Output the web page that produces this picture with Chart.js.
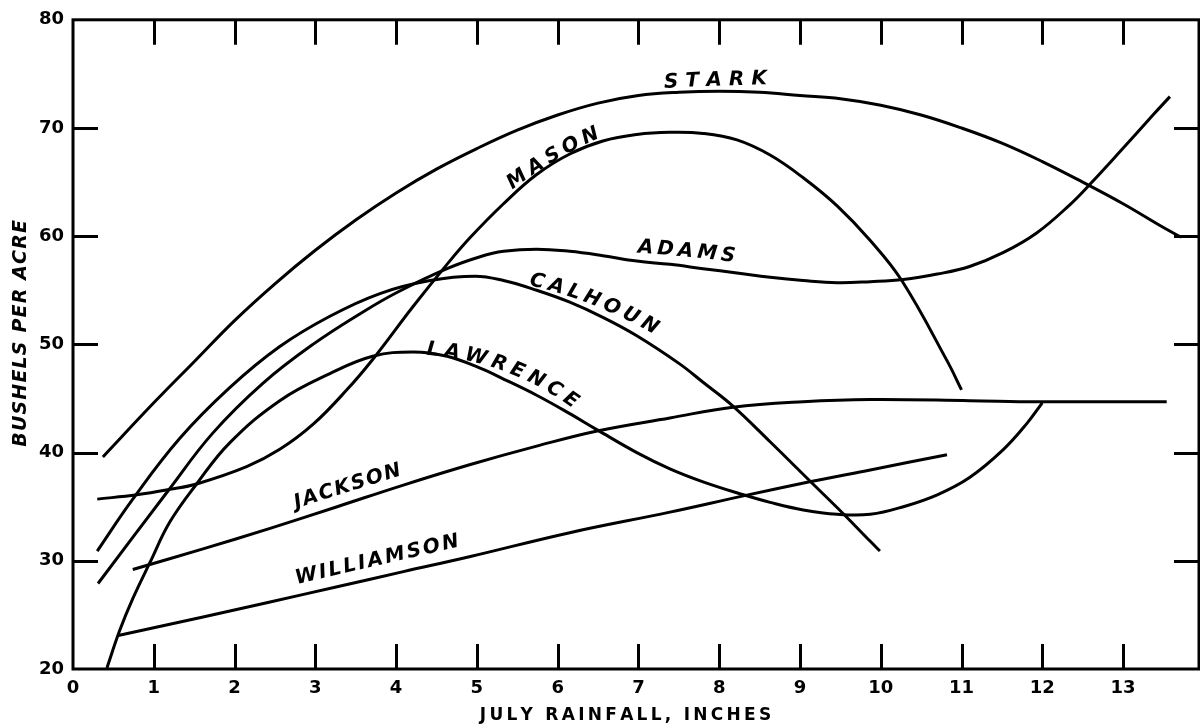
<!DOCTYPE html>
<html>
<head>
<meta charset="utf-8">
<script src="https://cdn.jsdelivr.net/npm/chart.js@4.4.0/dist/chart.umd.min.js"></script>
<style>
html,body{margin:0;padding:0;background:#fff;}
canvas{display:block;}
</style>
</head>
<body>
<canvas id="c" width="1200" height="728"></canvas>
<script>
// ---- data ----
const xTickValues = [0,1,2,3,4,5,6,7,8,9,10,11,12,13];
const yTickValues = [20,30,40,50,60,70,80];

const starkX = [0.37,1.0,1.5,2.0,2.5,3.0,3.5,4.0,4.5,5.0,5.5,6.0,6.5,7.0,7.5,8.0,8.5,9.0,9.5,10.0,10.5,11.0,11.5,12.0,12.5,13.0,13.5,13.72];
const starkY = [39.6,44.6,48.4,52.2,55.6,58.7,61.5,64.0,66.2,68.1,69.8,71.2,72.3,73.0,73.3,73.4,73.3,73.0,72.7,72.1,71.2,70.0,68.6,66.9,65.0,63.0,60.8,59.9];

const masonX = [0.30,0.79,1.2,1.53,2.15,2.56,2.97,3.39,3.72,4.21,4.63,4.92,5.33,5.74,6.15,6.56,6.98,7.39,7.8,8.22,8.63,9.04,9.46,9.87,10.26,10.82,11.0];
const masonY = [35.7,36.1,36.6,37.1,38.7,40.3,42.6,45.8,48.7,53.5,57.4,59.9,63.0,65.7,67.6,68.8,69.4,69.6,69.5,68.9,67.5,65.4,62.8,59.6,55.9,48.5,45.8];

const adamsX = [0.31,1.18,1.73,2.35,2.97,3.59,4.01,4.63,5.04,5.33,5.74,6.15,6.56,6.98,7.39,7.8,8.22,8.63,9.04,9.46,9.87,10.28,10.7,11.1,11.52,11.93,12.34,12.59,12.96,13.37,13.58];
const adamsY = [27.9,36.5,41.8,46.4,50.0,53.0,54.8,57.0,58.1,58.6,58.8,58.6,58.2,57.7,57.4,57.0,56.6,56.2,55.9,55.7,55.8,56.0,56.5,57.2,58.5,60.3,62.9,64.8,67.8,71.2,72.9];

const calhounX = [0.30,0.74,1.32,1.94,2.56,3.18,3.80,4.42,4.98,5.33,5.74,6.15,6.56,6.98,7.51,7.8,8.17,8.63,9.12,9.53,9.87,9.99];
const calhounY = [30.9,35.7,41.3,46.0,49.8,52.6,54.7,55.9,56.3,55.9,55.0,53.9,52.5,50.8,48.2,46.5,44.3,41.0,37.4,34.4,31.8,30.9];

const lawrenceX = [0.42,0.58,0.74,0.95,1.2,1.53,1.94,2.56,3.18,3.71,4.21,4.63,5.04,5.33,5.74,6.15,6.49,6.98,7.39,7.8,8.3,8.63,9.04,9.46,9.87,10.28,10.7,11.1,11.52,11.81,12.0];
const lawrenceY = [20.1,23.6,26.5,29.8,33.6,37.1,40.9,44.8,47.3,48.9,49.3,48.9,47.8,46.8,45.3,43.6,42.1,40.0,38.5,37.3,36.1,35.4,34.7,34.3,34.3,35.0,36.1,37.7,40.3,42.7,44.6];

const jacksonX = [0.74,1.61,2.44,3.27,4.09,4.92,5.74,6.49,7.39,8.17,9.04,9.87,11.1,11.93,13.54];
const jacksonY = [29.2,31.1,33.0,35.0,37.0,38.9,40.6,42.0,43.2,44.2,44.7,44.9,44.8,44.7,44.7];

const williamsonX = [0.56,1.61,2.44,3.27,4.09,4.92,6.15,7.39,8.3,9.12,9.87,10.82];
const williamsonY = [23.1,24.8,26.2,27.6,29.0,30.4,32.6,34.5,36.0,37.3,38.4,39.8];

const seriesNames = ['STARK','MASON','ADAMS','CALHOUN','LAWRENCE','JACKSON','WILLIAMSON'];
const seriesX = [starkX, masonX, adamsX, calhounX, lawrenceX, jacksonX, williamsonX];
const seriesY = [starkY, masonY, adamsY, calhounY, lawrenceY, jacksonY, williamsonY];

const xTitle = 'JULY RAINFALL, INCHES';
const yTitle = 'BUSHELS PER ACRE';

// curve label anchors (data coordinates) and lettering layout
const curveLabels = [
  {text:'STARK',      x:7.95, y:74.4, a0:-3,  a1:-1,  span:88},
  {text:'MASON',      x:5.94, y:67.4, a0:-36, a1:-25, span:85},
  {text:'ADAMS',      x:7.60, y:58.6, a0:4,   a1:7,   span:83},
  {text:'CALHOUN',    x:6.46, y:54.1, a0:14,  a1:29,  span:121},
  {text:'LAWRENCE',   x:5.35, y:48.0, a0:5,   a1:35,  span:148},
  {text:'JACKSON',    x:3.37, y:36.8, a0:-18, a1:-17, span:99},
  {text:'WILLIAMSON', x:3.78, y:30.1, a0:-13, a1:-13, span:148}
];

// ---- drawing helpers ----
function drawSpaced(ctx, text, cx, cy, a0deg, a1deg, span, font) {
  ctx.save();
  ctx.font = font;
  const chars = Array.from(text);
  const n = chars.length;
  const w = chars.map(c => ctx.measureText(c).width);
  const inner = w.reduce((a,b)=>a+b,0) - w[0]/2 - w[n-1]/2;
  const gap = n > 1 ? (span - inner)/(n-1) : 0;
  const s = [0];
  for (let i = 1; i < n; i++) s.push(s[i-1] + w[i-1]/2 + gap + w[i]/2);
  const L = s[n-1] || 1;
  const angAt = t => (a0deg + (a1deg - a0deg) * t / L) * Math.PI / 180;
  const pos = t => {
    const steps = 40; let x = 0, y = 0; const dt = t/steps;
    for (let k = 0; k < steps; k++) { const a = angAt((k+0.5)*dt); x += Math.cos(a)*dt; y += Math.sin(a)*dt; }
    return [x, y];
  };
  const mid = pos(L/2);
  ctx.fillStyle = '#000';
  ctx.textAlign = 'center';
  ctx.textBaseline = 'middle';
  for (let i = 0; i < n; i++) {
    if (chars[i] === ' ') continue;
    const p = pos(s[i]);
    ctx.save();
    ctx.translate(cx + p[0] - mid[0], cy + p[1] - mid[1]);
    ctx.rotate(angAt(s[i]));
    ctx.fillText(chars[i], 0, 0);
    ctx.restore();
  }
  ctx.restore();
}

const framePlugin = {
  id: 'frame',
  beforeDatasetsDraw(chart) {
    const {ctx, chartArea: a, scales: {x, y}} = chart;
    ctx.save();
    ctx.strokeStyle = '#000';
    ctx.lineWidth = 3;
    ctx.lineCap = 'butt';
    ctx.strokeRect(a.left, a.top, a.right - a.left, a.bottom - a.top);
    const tl = 25;
    ctx.beginPath();
    xTickValues.forEach(v => {
      if (v <= x.min || v >= x.max) return;
      const px = Math.round(x.getPixelForValue(v)) + 0.5;
      ctx.moveTo(px, a.top); ctx.lineTo(px, a.top + tl);
      ctx.moveTo(px, a.bottom); ctx.lineTo(px, a.bottom - tl);
    });
    yTickValues.forEach(v => {
      if (v <= y.min || v >= y.max) return;
      const py = Math.round(y.getPixelForValue(v)) + 0.5;
      ctx.moveTo(a.left, py); ctx.lineTo(a.left + tl, py);
      ctx.moveTo(a.right, py); ctx.lineTo(a.right - tl, py);
    });
    ctx.stroke();
    ctx.restore();
  },
  afterDatasetsDraw(chart) {
    const {ctx, scales: {x, y}} = chart;
    curveLabels.forEach(l => {
      drawSpaced(ctx, l.text, x.getPixelForValue(l.x), y.getPixelForValue(l.y), l.a0, l.a1, l.span,
        'italic bold 20px "DejaVu Sans"');
    });
    // axis titles
    drawSpaced(ctx, xTitle, 624, 716, 0, 0, 282, 'bold 17px "DejaVu Sans"');
    drawSpaced(ctx, yTitle, 21, 333, -90, -90, 213, 'italic bold 19px "DejaVu Sans"');
  }
};

const datasets = seriesNames.map((name, k) => ({
  label: name,
  data: seriesX[k].map((v, i) => ({x: v, y: seriesY[k][i]})),
  borderColor: '#000',
  backgroundColor: '#000',
  borderWidth: 3,
  pointRadius: 0,
  showLine: true,
  fill: false,
  tension: 0.4
}));

const tickFont = {family: '"DejaVu Sans"', weight: 'bold', size: 18};

new Chart(document.getElementById('c'), {
  type: 'scatter',
  data: {datasets},
  options: {
    responsive: false,
    animation: false,
    devicePixelRatio: 1,
    layout: {padding: {left: 0, top: 12, right: 1, bottom: 0}},
    plugins: {legend: {display: false}, tooltip: {enabled: false}},
    scales: {
      x: {
        type: 'linear', min: 0, max: 13.94,
        grid: {display: false, drawTicks: false},
        border: {display: false},
        ticks: {stepSize: 1, includeBounds: false, padding: 9, color: '#000', font: tickFont, maxRotation: 0, autoSkip: false},
        afterFit(s) { s.height = 59; }
      },
      y: {
        type: 'linear', min: 20, max: 80,
        grid: {display: false, drawTicks: false},
        border: {display: false},
        ticks: {stepSize: 10, padding: 9, color: '#000', font: tickFont},
        afterFit(s) { s.width = 73; }
      }
    }
  },
  plugins: [framePlugin]
});
</script>
</body>
</html>
